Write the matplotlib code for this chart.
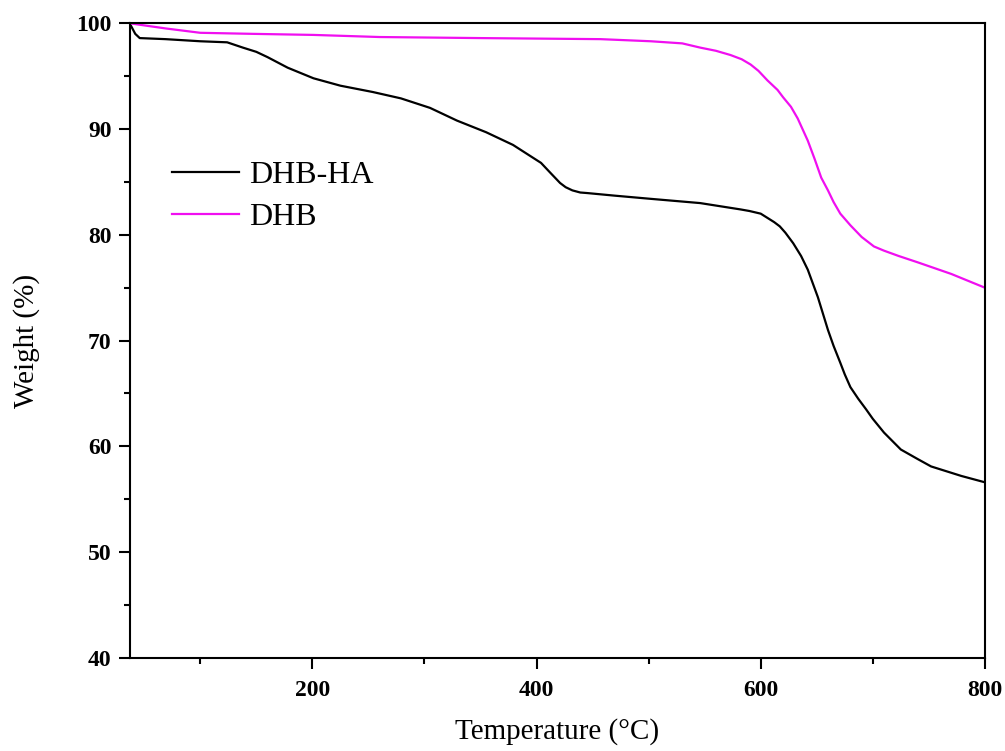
import matplotlib.pyplot as plt
from matplotlib.ticker import MultipleLocator

# TGA curves
temp_dhb_ha = [37, 39, 42, 46, 69, 100, 124, 138, 150, 160, 178, 201, 225, 254, 279,
               305, 329, 355, 379, 404, 412, 421, 426, 432, 439, 445, 450, 470, 502, 546,
               582, 590, 600, 612, 617, 622, 629, 636, 642, 651, 660, 665, 671, 675, 680,
               687, 694, 700, 710, 725, 740, 752, 779, 800]
weight_dhb_ha = [100, 99.6, 99.0, 98.6, 98.5, 98.3, 98.2, 97.7, 97.3, 96.8, 95.8, 94.8, 94.1, 93.5, 92.9,
                 92.0, 90.8, 89.7, 88.5, 86.8, 85.9, 84.9, 84.5, 84.2, 84.0, 83.95, 83.9, 83.7, 83.4, 83.0,
                 82.4, 82.25, 82.0, 81.2, 80.8, 80.2, 79.2, 78.0, 76.7, 74.1, 71.0, 69.5, 67.9, 66.8, 65.6,
                 64.5, 63.5, 62.6, 61.3, 59.7, 58.8, 58.1, 57.2, 56.6]

temp_dhb = [37, 50, 70, 100, 147, 201, 260, 350, 457, 502, 530, 546, 560, 573, 583,
            591, 598, 606, 615, 620, 627, 633, 642, 648, 654, 660, 665, 671, 680, 690,
            701, 710, 723, 740, 770, 800]
weight_dhb = [100, 99.8, 99.5, 99.1, 99.0, 98.9, 98.7, 98.6, 98.5, 98.3, 98.1, 97.7, 97.4, 97.0, 96.6,
              96.1, 95.5, 94.6, 93.7, 93.0, 92.1, 91.0, 88.9, 87.2, 85.4, 84.2, 83.1, 82.0, 80.9, 79.8,
              78.9, 78.5, 78.0, 77.4, 76.3, 75.0]

plt.rcParams['font.family'] = ['Liberation Serif', 'DejaVu Serif']

fig = plt.figure(figsize=(10.05, 7.51), dpi=100)
ax = fig.add_axes([0.129, 0.124, 0.851, 0.845])

ax.plot(temp_dhb_ha, weight_dhb_ha, color='black', lw=1.6, solid_joinstyle='round', label='DHB-HA')
ax.plot(temp_dhb, weight_dhb, color='#f00ff0', lw=1.6, solid_joinstyle='round', label='DHB')

ax.set_xlim(37, 800)
ax.set_ylim(40, 100)
ax.xaxis.set_major_locator(MultipleLocator(200))
ax.xaxis.set_minor_locator(MultipleLocator(100))
ax.yaxis.set_major_locator(MultipleLocator(10))
ax.yaxis.set_minor_locator(MultipleLocator(5))

for s in ax.spines.values():
    s.set_linewidth(1.5)
ax.tick_params(which='major', direction='out', length=8, width=1.5, labelsize=17)
ax.tick_params(which='minor', direction='out', length=4.5, width=1.5)
ax.tick_params(axis='x', which='major', pad=8)
ax.tick_params(axis='y', which='major', pad=5)
for lab in ax.get_xticklabels() + ax.get_yticklabels():
    lab.set_fontweight('bold')

ax.set_xlabel('Temperature (°C)', fontsize=21, labelpad=12)
ax.set_ylabel('Weight (%)', fontsize=21, labelpad=26)

ax.legend(loc='center left', bbox_to_anchor=(0.05, 0.727), frameon=False,
          fontsize=23, handlelength=2.1, handletextpad=0.3, labelspacing=0.4,
          borderpad=0, borderaxespad=0)

fig.savefig('out.png', dpi=100)
